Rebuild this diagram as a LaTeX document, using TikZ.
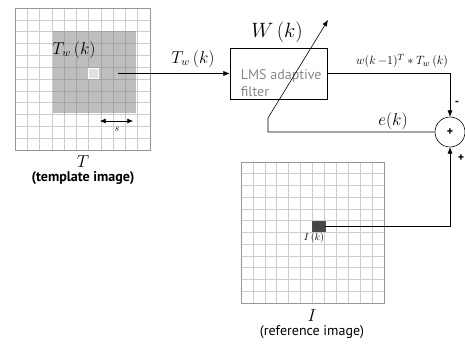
\documentclass[tikz,border=0pt]{standalone}
\usepackage{fontspec}
\setsansfont{PT Sans}
\usetikzlibrary{arrows.meta,positioning,calc}
\definecolor{cellgrey}{RGB}{205,205,205}
\definecolor{framegrey}{RGB}{150,150,150}
\definecolor{wingrey}{RGB}{190,190,190}
\definecolor{wincell}{RGB}{165,165,165}
\definecolor{pixdark}{RGB}{70,70,70}
\definecolor{boxtext}{RGB}{135,135,135}

\begin{document}
\begin{tikzpicture}[x=1pt, y=-1pt,
  font=\sffamily,
  arr/.style={-{Latex[length=2.2mm,width=1.8mm]}, semithick},
  cellline/.style={draw=cellgrey, line width=0.6pt},
  frame/.style={draw=framegrey, line width=0.9pt},
  lbl/.style={font=\fontsize{16}{18}\selectfont, inner sep=0pt},
  small/.style={font=\fontsize{10}{12}\selectfont, inner sep=0pt},
  caption/.style={font=\sffamily\fontsize{14}{16}\selectfont, inner sep=0pt}
]
\useasboundingbox (0,0) rectangle (465,343);

% template image T
\foreach \i in {1,...,10} \draw[cellline] ({15+\i*135/11},8) -- ({15+\i*135/11},150);
\foreach \j in {1,...,11} \draw[cellline] (15,{8+\j*142/12}) -- (150,{8+\j*142/12});
\fill[wingrey] (53,31) rectangle (136,113);
\begin{scope}
  \clip (53,31) rectangle (136,113);
  \foreach \i in {1,...,10} \draw[cellline, draw=wincell] ({15+\i*135/11},8) -- ({15+\i*135/11},150);
  \foreach \j in {1,...,11} \draw[cellline, draw=wincell] (15,{8+\j*142/12}) -- (150,{8+\j*142/12});
\end{scope}
\draw[frame] (15,8) rectangle (150,150);
\node[draw=white, fill=black!12, minimum size=10pt, inner sep=0pt] (tpix) at (93.5,73) {};
\node[lbl] (twin) at (74,50) {$T_w\,(k)$};
\coordinate (sleft) at (100,121);
\coordinate (sright) at (133,121);
\draw[{Latex[length=2mm,width=1.8mm]}-{Latex[length=2mm,width=1.8mm]}, semithick] (sleft) -- (sright);
\node[small] (slab) at (117,129) {$s$};
\node[lbl] (tlab) at (83,162) {$T$};
\node[caption, font=\sffamily\bfseries\fontsize{14}{16}\selectfont] (tcap) at (83,178) {(template image)};

% reference image I
\foreach \i in {1,...,11} \draw[cellline] ({241+\i*143/12},162) -- ({241+\i*143/12},303);
\foreach \j in {1,...,11} \draw[cellline] (241,{162+\j*141/12}) -- (384,{162+\j*141/12});
\draw[frame] (241,162) rectangle (384,303);
\node[fill=pixdark, draw=black!70, minimum width=13pt, minimum height=10pt, inner sep=0pt] (ipix) at (318.5,226) {};
\node[small] (iklab) at (314,238) {$I\,(k)$};
\node[lbl] (ilab) at (312,316) {$I$};
\node[caption] (icap) at (312,332) {(reference image)};

% filter and error loop
\node[draw, semithick, minimum width=97pt, minimum height=51pt, inner sep=0pt] (lms) at (278.5,73.5) {};
\node[anchor=south west, align=left, text=boxtext, font=\sffamily\fontsize{14}{17}\selectfont, inner sep=0pt] (lmstxt) at ($(lms.south west)+(11,-2)$) {LMS adaptive\\filter};
\node[lbl, font=\fontsize{21}{23}\selectfont] (wk) at (277,32) {$W\,(k)$};
\node[draw, circle, semithick, minimum size=30pt, inner sep=0pt, font=\sffamily\bfseries\fontsize{12}{13}\selectfont] (sum) at (450,132) {+};

\coordinate (twout) at (118,73.5);
\draw[arr] (twout) -- (lms.west);
\node[lbl] (twlab) at (193,59) {$T_w\,(k)$};

\draw[arr] (lms.east) -| (sum.north);
\node[lbl, font=\fontsize{13}{15}\selectfont] (ylab) at (402,61) {$w(k\,{-}1)^T *T_w\,(k)$};
\node[font=\sffamily\bfseries\fontsize{12}{13}\selectfont, inner sep=0pt] (minus) at (457,103) {-};

\draw[arr] (ipix.east) -| (sum.south);
\node[font=\sffamily\bfseries\fontsize{12}{13}\selectfont, inner sep=0pt] (plus) at (461,158) {+};

\coordinate (fbcorner) at (268,132);
\coordinate (fbknee) at (268,118);
\coordinate (fbtip) at (328,20);
\draw[arr] (sum.west) -- (fbcorner) -- (fbknee) -- (fbtip);
\node[lbl] (eklab) at (393,121) {$e(k)$};
\end{tikzpicture}
\end{document}
